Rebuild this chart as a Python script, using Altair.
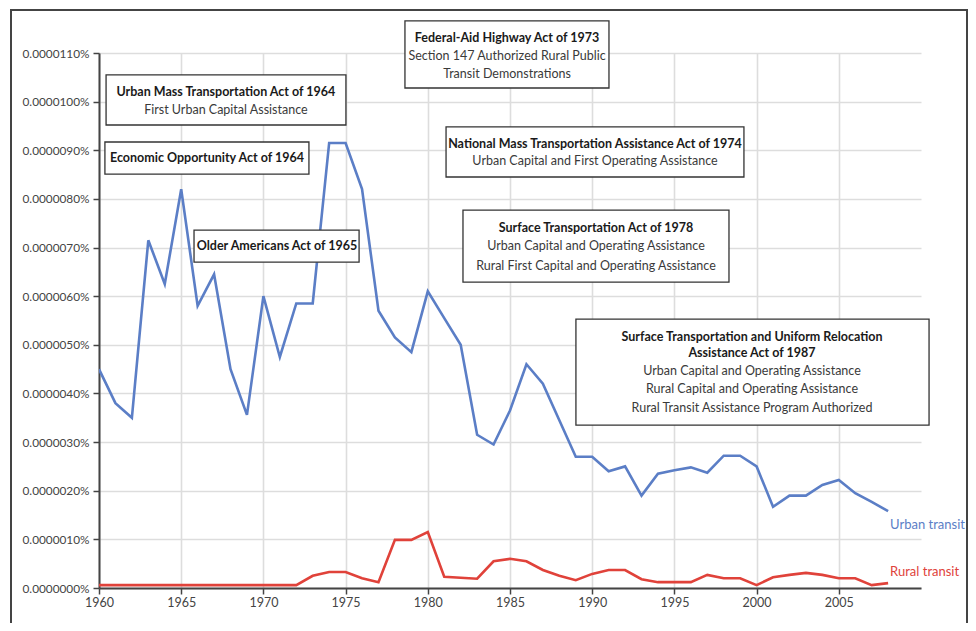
import altair as alt
import pandas as pd

# ---------------- data (values in millionths of a percent) ----------------
years = list(range(1960, 2009))
urban = [4.5, 3.8, 3.5, 7.15, 6.25, 8.2, 5.8, 6.45, 4.5, 3.56,
         6.0, 4.75, 5.85, 5.85, 9.15, 9.15, 8.2, 5.7, 5.15, 4.85,
         6.1, 5.55, 5.0, 3.15, 2.95, 3.65, 4.6, 4.2, 3.45, 2.7,
         2.7, 2.4, 2.5, 1.9, 2.35, 2.42, 2.48, 2.37, 2.72, 2.72,
         2.5, 1.67, 1.9, 1.9, 2.12, 2.22, 1.95, 1.77, 1.58]
rural = [0.06, 0.06, 0.06, 0.06, 0.06, 0.06, 0.06, 0.06, 0.06, 0.06,
         0.06, 0.06, 0.06, 0.25, 0.33, 0.33, 0.2, 0.12, 0.99, 0.99,
         1.15, 0.23, 0.21, 0.19, 0.55, 0.6, 0.55, 0.37, 0.25, 0.16,
         0.29, 0.37, 0.37, 0.18, 0.12, 0.12, 0.12, 0.27, 0.2, 0.2,
         0.06, 0.22, 0.27, 0.31, 0.27, 0.2, 0.2, 0.06, 0.1]
series_names = ["Urban transit", "Rural transit"]
series_colors = ["#5b7ec6", "#e0423a"]
x_ticks = [1960, 1965, 1970, 1975, 1980, 1985, 1990, 1995, 2000, 2005]
y_ticks = list(range(0, 12))

# annotation boxes: x0, x1 (years), y0, y1 (millionths of a percent)
box_x0 = [1960.43, 1960.36, 1965.78, 1978.61, 1981.11, 1982.14, 1989.01]
box_x1 = [1975.02, 1972.77, 1975.82, 1991.02, 1999.23, 1998.32, 2010.49]
box_y0 = [9.52, 8.51, 6.70, 10.28, 8.45, 6.29, 3.35]
box_y1 = [10.55, 9.17, 7.36, 11.66, 9.48, 7.77, 5.53]

# annotation text lines
txt = ["Urban Mass Transportation Act of 1964", "First Urban Capital Assistance",
       "Economic Opportunity Act of 1964",
       "Older Americans Act of 1965",
       "Federal-Aid Highway Act of 1973", "Section 147 Authorized Rural Public", "Transit Demonstrations",
       "National Mass Transportation Assistance Act of 1974", "Urban Capital and First Operating Assistance",
       "Surface Transportation Act of 1978", "Urban Capital and Operating Assistance",
       "Rural First Capital and Operating Assistance",
       "Surface Transportation and Uniform Relocation", "Assistance Act of 1987",
       "Urban Capital and Operating Assistance", "Rural Capital and Operating Assistance",
       "Rural Transit Assistance Program Authorized"]
txt_x = [1967.72, 1967.72, 1966.57, 1970.83, 1984.82, 1984.82, 1984.82,
         1990.17, 1990.17, 1990.23, 1990.23, 1990.23,
         1999.72, 1999.72, 1999.72, 1999.72, 1999.72]
txt_y = [10.20, 9.83, 8.84, 7.03, 11.31, 10.94, 10.57, 9.13, 8.78,
         7.40, 7.03, 6.62, 5.16, 4.83, 4.46, 4.09, 3.70]
txt_bold = [True, False, True, True, True, False, False, True, False,
            True, False, False, True, True, False, False, False]

S = 1e-8  # millionth of a percent as a fraction

lines_df = pd.DataFrame({
    "year": years * 2,
    "value": [v * S for v in urban] + [v * S for v in rural],
    "series": [series_names[0]] * len(years) + [series_names[1]] * len(years),
})
boxes_df = pd.DataFrame({"x0": box_x0, "x1": box_x1,
                         "y0": [v * S for v in box_y0], "y1": [v * S for v in box_y1]})
txt_df = pd.DataFrame({"text": txt, "x": txt_x, "y": [v * S for v in txt_y], "bold": txt_bold})
end_df = pd.DataFrame({"year": [years[-1]] * 2,
                       "value": [urban[-1] * S, rural[-1] * S],
                       "series": series_names})

FONT = "Lato, Roboto, sans-serif"

xs = alt.Scale(domain=[1960, 2010], nice=False, zero=False)
ys = alt.Scale(domain=[0, 11 * S], nice=False)
col = alt.Scale(domain=series_names, range=series_colors)

base = alt.Chart(lines_df)

lines = base.mark_line(strokeWidth=2.6, clip=True).encode(
    x=alt.X("year:Q", scale=xs, title=None,
            axis=alt.Axis(values=x_ticks, format="d", grid=True, tickSize=6,
                          labelPadding=2, labelFlush=False, labelFontSize=12.5)),
    y=alt.Y("value:Q", scale=ys, title=None,
            axis=alt.Axis(values=[v * S for v in y_ticks], format=".7%", grid=True,
                          tickSize=6, labelPadding=4, labelFontSize=11.8)),
    color=alt.Color("series:N", scale=col, legend=None),
)

frame = alt.Chart(lines_df).mark_rect(fill="transparent", stroke="#444", strokeWidth=2).encode(
    x=alt.value(-88), x2=alt.value(868), y=alt.value(-43), y2=alt.value(640)
)

boxes = alt.Chart(boxes_df).mark_rect(fill="white", stroke="#333", strokeWidth=1.3).encode(
    x=alt.X("x0:Q", scale=xs), x2="x1:Q",
    y=alt.Y("y0:Q", scale=ys), y2="y1:Q",
)

txt_bold_layer = alt.Chart(txt_df).transform_filter("datum.bold").mark_text(
    font=FONT, fontSize=12.5, fontWeight="bold", color="#1a1a1a", baseline="middle", align="center"
).encode(x=alt.X("x:Q", scale=xs), y=alt.Y("y:Q", scale=ys), text="text:N")

txt_norm_layer = alt.Chart(txt_df).transform_filter("!datum.bold").mark_text(
    font=FONT, fontSize=12.5, color="#3a3a3a", baseline="middle", align="center"
).encode(x=alt.X("x:Q", scale=xs), y=alt.Y("y:Q", scale=ys), text="text:N")

end_urban = alt.Chart(end_df).transform_filter(f"datum.series == '{series_names[0]}'").mark_text(
    font=FONT, fontSize=13, align="left", baseline="middle", dx=2, dy=14
).encode(x=alt.X("year:Q", scale=xs), y=alt.Y("value:Q", scale=ys), text="series:N",
         color=alt.Color("series:N", scale=col, legend=None))

end_rural = alt.Chart(end_df).transform_filter(f"datum.series == '{series_names[1]}'").mark_text(
    font=FONT, fontSize=13, align="left", baseline="middle", dx=2, dy=-11
).encode(x=alt.X("year:Q", scale=xs), y=alt.Y("value:Q", scale=ys), text="series:N",
         color=alt.Color("series:N", scale=col, legend=None))

chart = alt.layer(frame, lines, boxes, txt_bold_layer, txt_norm_layer, end_urban, end_rural).properties(
    width=822, height=535,
    autosize=alt.AutoSizeParams(type="none"),
    padding={"left": 91, "top": 45, "right": 47, "bottom": 35},
).configure_view(stroke=None).configure_axis(
    labelFont=FONT, labelColor="#444",
    gridColor="#dddddd", gridWidth=1.6,
    domainColor="#444", domainWidth=2, tickColor="#444", tickWidth=1.5,
).configure_axisX(grid=True).configure_axisY(grid=True)

chart.save("out.html", embed_options={"renderer": "svg", "actions": False})
